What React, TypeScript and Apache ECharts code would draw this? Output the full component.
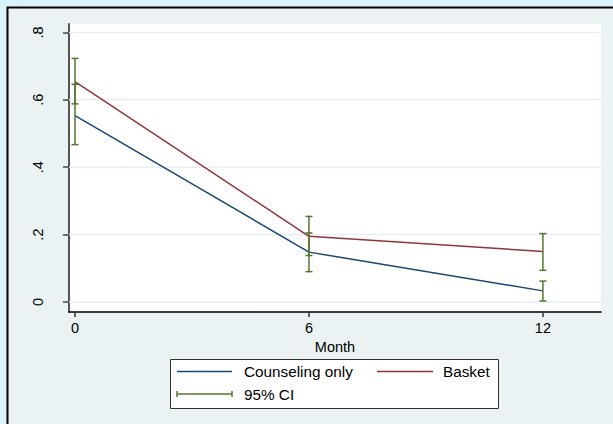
import React, { useEffect, useRef } from "react";
import * as echarts from "echarts";

const months = [0, 6, 12];
const counseling = [0.553, 0.148, 0.033];
const basket = [0.654, 0.195, 0.15];
const counselingLow = [0.467, 0.09, 0.003];
const counselingHigh = [0.646, 0.205, 0.062];
const basketLow = [0.588, 0.138, 0.094];
const basketHigh = [0.723, 0.254, 0.203];
const xTicks = [0, 6, 12];
const yTicks = [0, 0.2, 0.4, 0.6, 0.8];
const seriesNames = ["Counseling only", "Basket", "95% CI"];

const NAVY = "#1a476f";
const MAROON = "#90353b";
const GREEN = "#55752f";
const FONT = "Liberation Sans, Arial, sans-serif";

export default function App() {
  const ref = useRef<HTMLDivElement>(null);
  useEffect(() => {
    if (!ref.current) return;
    const chart = echarts.init(ref.current, undefined, { renderer: "svg" });
    const ciData: number[][] = [];
    months.forEach((m, i) => {
      ciData.push([m, counselingLow[i], counselingHigh[i]]);
      ciData.push([m, basketLow[i], basketHigh[i]]);
    });
    const legendLeft = 170.5;
    const legendTop = 359.5;
    const legendW = 328;
    const legendH = 49;
    const r1 = 371.5;
    const r2 = 394;
    chart.setOption({
      animation: false,
      backgroundColor: "#d9f3fa",
      grid: {
        left: 69,
        top: 24,
        right: 12,
        bottom: 112,
        show: true,
        backgroundColor: "#ffffff",
        borderWidth: 0,
      },
      xAxis: {
        type: "value",
        min: -0.154,
        max: 13.49,
        name: "Month",
        nameLocation: "middle",
        nameGap: 21,
        nameTextStyle: { fontSize: 14.5, color: "#000", fontFamily: FONT },
        axisLine: { show: true, onZero: false, lineStyle: { color: "#000", width: 1.5 } },
        axisTick: { show: true, length: 5, customValues: xTicks, lineStyle: { color: "#333", width: 1.5 } },
        axisLabel: { customValues: xTicks, margin: 8, fontSize: 14.5, color: "#000", fontFamily: FONT },
        splitLine: { show: false },
      },
      yAxis: {
        type: "value",
        min: -0.0297,
        max: 0.825,
        axisLine: { show: true, onZero: false, lineStyle: { color: "#555", width: 2 } },
        axisTick: { show: true, length: 6, customValues: yTicks, lineStyle: { color: "#444", width: 1.5 } },
        axisLabel: {
          customValues: yTicks,
          rotate: 90,
          margin: 24,
          fontSize: 14.5,
          color: "#000",
          fontFamily: FONT,
          formatter: (v: number) => (v === 0 ? "0" : v.toFixed(1).replace(/^0/, "")),
        },
        splitLine: { show: false },
      },
      graphic: [
        {
          type: "rect",
          z: -10,
          shape: { x: 7.5, y: 7.5, width: 700, height: 600 },
          style: { fill: "#eaf2f3", stroke: "#000", lineWidth: 2 },
          silent: true,
        },
        {
          type: "group",
          z: 100,
          children: [
            {
              type: "rect",
              shape: { x: legendLeft, y: legendTop, width: legendW, height: legendH },
              style: { fill: "#fff", stroke: "#333", lineWidth: 1 },
            },
            { type: "line", shape: { x1: 177, y1: r1, x2: 232, y2: r1 }, style: { stroke: NAVY, lineWidth: 1.5 } },
            {
              type: "text",
              style: { x: 244, y: r1, text: seriesNames[0], fill: "#000", font: `15.3px ${FONT}`, verticalAlign: "middle" },
            },
            { type: "line", shape: { x1: 377, y1: r1, x2: 433, y2: r1 }, style: { stroke: MAROON, lineWidth: 1.5 } },
            {
              type: "text",
              style: { x: 443, y: r1, text: seriesNames[1], fill: "#000", font: `15.3px ${FONT}`, verticalAlign: "middle" },
            },
            { type: "line", shape: { x1: 177, y1: r2, x2: 232, y2: r2 }, style: { stroke: GREEN, lineWidth: 1.5 } },
            { type: "line", shape: { x1: 177, y1: r2 - 3, x2: 177, y2: r2 + 3 }, style: { stroke: GREEN, lineWidth: 1.5 } },
            { type: "line", shape: { x1: 232, y1: r2 - 3, x2: 232, y2: r2 + 3 }, style: { stroke: GREEN, lineWidth: 1.5 } },
            {
              type: "text",
              style: { x: 244, y: r2, text: seriesNames[2], fill: "#000", font: `15.3px ${FONT}`, verticalAlign: "middle" },
            },
          ],
        },
      ],
      series: [
        {
          type: "custom",
          z: 1,
          silent: true,
          data: yTicks.map((v) => [v]),
          encode: { y: 0 },
          renderItem: (params: any, api: any) => {
            const cs = params.coordSys;
            const y = api.coord([0, api.value(0)])[1];
            return {
              type: "line",
              shape: { x1: cs.x, y1: y, x2: cs.x + cs.width, y2: y },
              style: { stroke: "#e6eff1", lineWidth: 1.5 },
            };
          },
        },
        {
          name: seriesNames[0],
          type: "line",
          data: months.map((m, i) => [m, counseling[i]]),
          symbol: "none",
          lineStyle: { color: NAVY, width: 1.5 },
          itemStyle: { color: NAVY },
          z: 3,
        },
        {
          name: seriesNames[1],
          type: "line",
          data: months.map((m, i) => [m, basket[i]]),
          symbol: "none",
          lineStyle: { color: MAROON, width: 1.5 },
          itemStyle: { color: MAROON },
          z: 3,
        },
        {
          name: seriesNames[2],
          type: "custom",
          z: 4,
          data: ciData,
          encode: { x: 0, y: [1, 2] },
          renderItem: (params: any, api: any) => {
            const x = api.value(0);
            const pLo = api.coord([x, api.value(1)]);
            const pHi = api.coord([x, api.value(2)]);
            const hw = 3.5;
            const st = { stroke: GREEN, lineWidth: 1.5 };
            return {
              type: "group",
              children: [
                { type: "line", shape: { x1: pLo[0], y1: pLo[1], x2: pHi[0], y2: pHi[1] }, style: st },
                { type: "line", shape: { x1: pLo[0] - hw, y1: pLo[1], x2: pLo[0] + hw, y2: pLo[1] }, style: st },
                { type: "line", shape: { x1: pHi[0] - hw, y1: pHi[1], x2: pHi[0] + hw, y2: pHi[1] }, style: st },
              ],
            };
          },
        },
      ],
    });
    return () => chart.dispose();
  }, []);
  return <div ref={ref} style={{ position: "fixed", left: 0, top: 0, width: 613, height: 424 }} />;
}
